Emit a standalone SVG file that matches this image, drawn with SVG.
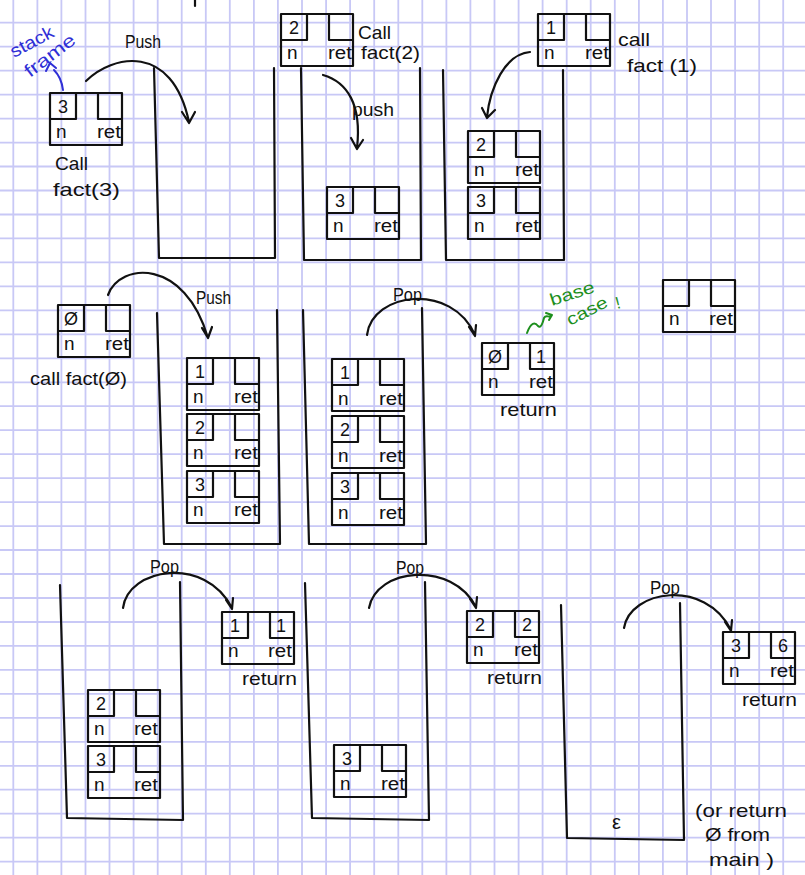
<svg xmlns="http://www.w3.org/2000/svg" xmlns:xlink="http://www.w3.org/1999/xlink" width="805" height="875" viewBox="0 0 805 875">
<style>
.grid{stroke:#c8c8f6;stroke-width:1.8;fill:none}
.ink{stroke:#111;stroke-width:2.2;fill:none;stroke-linecap:round;stroke-linejoin:round}
.t{font-family:"Liberation Sans",Arial,sans-serif;fill:#111}
.v{font-size:18px;text-anchor:middle}
.n{font-size:19px}
.r{font-size:18px}
.lbl{font-size:19px}
.blue{fill:#2f2fd6;font-family:"Liberation Sans",Arial,sans-serif;font-size:18px}
.green{fill:#1d8f1d;font-family:"Liberation Sans",Arial,sans-serif;font-size:17px}
</style>
<defs>
<g id="frm"><path class="ink" d="M0,0H72V52H0Z M26,0V26H0 M48,0V26H72"/></g>
</defs>
<rect width="805" height="875" fill="#fff"/>
<path class="grid" d="M13.3 0V875M37.4 0V875M61.4 0V875M85.5 0V875M109.5 0V875M133.6 0V875M157.7 0V875M181.7 0V875M205.8 0V875M229.8 0V875M253.9 0V875M277.9 0V875M302 0V875M326.1 0V875M350.1 0V875M374.2 0V875M398.3 0V875M422.3 0V875M446.4 0V875M470.4 0V875M494.5 0V875M518.6 0V875M542.6 0V875M566.7 0V875M590.7 0V875M614.8 0V875M638.9 0V875M662.9 0V875M687 0V875M711 0V875M735.1 0V875M759.2 0V875M783.2 0V875"/>
<path class="grid" d="M0 22.7H805M0 46.7H805M0 70.6H805M0 94.6H805M0 118.6H805M0 142.6H805M0 166.5H805M0 190.5H805M0 214.5H805M0 238.4H805M0 262.4H805M0 286.4H805M0 310.3H805M0 334.3H805M0 358.3H805M0 382.3H805M0 406.2H805M0 430.2H805M0 454.2H805M0 478.1H805M0 502.1H805M0 526.1H805M0 550H805M0 574H805M0 598H805M0 622H805M0 645.9H805M0 669.9H805M0 693.9H805M0 717.8H805M0 741.8H805M0 765.8H805M0 789.7H805M0 813.7H805M0 837.7H805M0 861.7H805"/>

<g id="stacks">
<path id="stack1" class="ink" d="M154,68 L159,258 L275,258 L274,68"/>
<path id="stack2" class="ink" d="M301,68 L304,260 L421,260 L420,68"/>
<path id="stack3" class="ink" d="M443,70 L446,260 L564,260 L563,70"/>
<path id="stack4" class="ink" d="M157,313 L164,544 L280,544 L277,310"/>
<path id="stack5" class="ink" d="M303,310 L309,544 L426,544 L422,308"/>
<path id="stack6" class="ink" d="M60,585 L67,818 L183,820 L180,582"/>
<path id="stack7" class="ink" d="M305,583 L312,818 L429,820 L425,582"/>
<path id="stack8" class="ink" d="M561,605 L567,838 L684,840 L680,603"/>
<path class="ink" d="M195,0 L195,6"/>
</g>

<g id="frame-call3"><use href="#frm" x="50" y="93"/>
<text class="t v" x="63" y="113">3</text><text class="t n" x="56" y="138">n</text><text class="t r" x="97" y="138" textLength="24" lengthAdjust="spacingAndGlyphs">ret</text>
<text class="t lbl" x="55" y="170" textLength="33" lengthAdjust="spacingAndGlyphs">Call</text><text class="t lbl" x="53" y="196" textLength="67" lengthAdjust="spacingAndGlyphs">fact(3)</text></g>

<g id="frame-call2"><use href="#frm" x="281" y="14"/>
<text class="t v" x="294" y="34">2</text><text class="t n" x="287" y="59">n</text><text class="t r" x="328" y="59" textLength="24" lengthAdjust="spacingAndGlyphs">ret</text>
<text class="t lbl" x="358" y="39" textLength="33" lengthAdjust="spacingAndGlyphs">Call</text><text class="t lbl" x="361" y="59" textLength="59" lengthAdjust="spacingAndGlyphs">fact(2)</text></g>

<g id="frame-s2-3"><use href="#frm" x="327" y="187"/>
<text class="t v" x="340" y="207">3</text><text class="t n" x="333" y="232">n</text><text class="t r" x="374" y="232" textLength="24" lengthAdjust="spacingAndGlyphs">ret</text></g>

<g id="frame-call1"><use href="#frm" x="538" y="14"/>
<text class="t v" x="551" y="34">1</text><text class="t n" x="544" y="59">n</text><text class="t r" x="585" y="59" textLength="24" lengthAdjust="spacingAndGlyphs">ret</text>
<text class="t lbl" x="618" y="46" textLength="32" lengthAdjust="spacingAndGlyphs">call</text><text class="t lbl" x="627" y="72" textLength="70" lengthAdjust="spacingAndGlyphs">fact (1)</text></g>

<g id="frame-s3-2"><use href="#frm" x="468" y="131"/>
<text class="t v" x="481" y="151">2</text><text class="t n" x="474" y="176">n</text><text class="t r" x="515" y="176" textLength="24" lengthAdjust="spacingAndGlyphs">ret</text></g>
<g id="frame-s3-3"><use href="#frm" x="468" y="187"/>
<text class="t v" x="481" y="207">3</text><text class="t n" x="474" y="232">n</text><text class="t r" x="515" y="232" textLength="24" lengthAdjust="spacingAndGlyphs">ret</text></g>

<g id="frame-call0"><use href="#frm" x="58" y="305"/>
<text class="t v" x="71" y="325">Ø</text><text class="t n" x="64" y="350">n</text><text class="t r" x="105" y="350" textLength="24" lengthAdjust="spacingAndGlyphs">ret</text>
<text class="t lbl" x="30" y="385" textLength="97" lengthAdjust="spacingAndGlyphs">call fact(Ø)</text></g>

<g id="frame-s4-1"><use href="#frm" x="187" y="358"/>
<text class="t v" x="200" y="378">1</text><text class="t n" x="193" y="403">n</text><text class="t r" x="234" y="403" textLength="24" lengthAdjust="spacingAndGlyphs">ret</text></g>
<g id="frame-s4-2"><use href="#frm" x="187" y="414"/>
<text class="t v" x="200" y="434">2</text><text class="t n" x="193" y="459">n</text><text class="t r" x="234" y="459" textLength="24" lengthAdjust="spacingAndGlyphs">ret</text></g>
<g id="frame-s4-3"><use href="#frm" x="187" y="471"/>
<text class="t v" x="200" y="491">3</text><text class="t n" x="193" y="516">n</text><text class="t r" x="234" y="516" textLength="24" lengthAdjust="spacingAndGlyphs">ret</text></g>

<g id="frame-s5-1"><use href="#frm" x="332" y="359"/>
<text class="t v" x="345" y="379">1</text><text class="t n" x="338" y="405">n</text><text class="t r" x="379" y="405" textLength="24" lengthAdjust="spacingAndGlyphs">ret</text></g>
<g id="frame-s5-2"><use href="#frm" x="332" y="416"/>
<text class="t v" x="345" y="436">2</text><text class="t n" x="338" y="462">n</text><text class="t r" x="379" y="462" textLength="24" lengthAdjust="spacingAndGlyphs">ret</text></g>
<g id="frame-s5-3"><use href="#frm" x="332" y="473"/>
<text class="t v" x="345" y="493">3</text><text class="t n" x="338" y="519">n</text><text class="t r" x="379" y="519" textLength="24" lengthAdjust="spacingAndGlyphs">ret</text></g>

<g id="frame-ret0"><use href="#frm" x="482" y="343"/>
<text class="t v" x="495" y="363">Ø</text><text class="t v" x="541" y="363">1</text><text class="t n" x="488" y="388">n</text><text class="t r" x="529" y="388" textLength="24" lengthAdjust="spacingAndGlyphs">ret</text>
<text class="t lbl" x="500" y="416" textLength="57" lengthAdjust="spacingAndGlyphs">return</text></g>

<g id="frame-empty"><use href="#frm" x="663" y="280"/>
<text class="t n" x="669" y="325">n</text><text class="t r" x="709" y="325" textLength="24" lengthAdjust="spacingAndGlyphs">ret</text></g>

<g id="frame-ret1"><use href="#frm" x="222" y="612"/>
<text class="t v" x="235" y="632">1</text><text class="t v" x="281" y="632">1</text><text class="t n" x="228" y="657">n</text><text class="t r" x="268" y="657" textLength="24" lengthAdjust="spacingAndGlyphs">ret</text>
<text class="t lbl" x="242" y="685" textLength="55" lengthAdjust="spacingAndGlyphs">return</text></g>

<g id="frame-s6-2"><use href="#frm" x="88" y="690"/>
<text class="t v" x="101" y="710">2</text><text class="t n" x="94" y="735">n</text><text class="t r" x="134" y="735" textLength="24" lengthAdjust="spacingAndGlyphs">ret</text></g>
<g id="frame-s6-3"><use href="#frm" x="88" y="746"/>
<text class="t v" x="101" y="766">3</text><text class="t n" x="94" y="791">n</text><text class="t r" x="134" y="791" textLength="24" lengthAdjust="spacingAndGlyphs">ret</text></g>

<g id="frame-ret2"><use href="#frm" x="467" y="611"/>
<text class="t v" x="480" y="631">2</text><text class="t v" x="527" y="631">2</text><text class="t n" x="473" y="656">n</text><text class="t r" x="514" y="656" textLength="24" lengthAdjust="spacingAndGlyphs">ret</text>
<text class="t lbl" x="487" y="684" textLength="55" lengthAdjust="spacingAndGlyphs">return</text></g>

<g id="frame-s7-3"><use href="#frm" x="334" y="745"/>
<text class="t v" x="347" y="765">3</text><text class="t n" x="340" y="790">n</text><text class="t r" x="381" y="790" textLength="24" lengthAdjust="spacingAndGlyphs">ret</text></g>

<g id="frame-ret3"><use href="#frm" x="723" y="632"/>
<text class="t v" x="736" y="652">3</text><text class="t v" x="783" y="652">6</text><text class="t n" x="729" y="677">n</text><text class="t r" x="770" y="677" textLength="24" lengthAdjust="spacingAndGlyphs">ret</text>
<text class="t lbl" x="742" y="706" textLength="55" lengthAdjust="spacingAndGlyphs">return</text></g>

<g id="connectors">
<path class="ink" d="M86,81 C112,55 172,42 189,122 M182,112 L189,123 L195,112"/>
<path class="ink" d="M323,75 C347,82 362,104 357,148 M351,138 L357,149 L363,140"/>
<path class="ink" d="M530,52 C505,54 490,88 487,117 M482,108 L487,118 L495,110"/>
<path class="ink" d="M108,295 C120,262 185,258 208,338 M202,328 L208,338 L212,327"/>
<path class="ink" d="M367,335 C372,292 452,282 475,335 M469,327 L475,336 L476,325"/>
<path class="ink" d="M123,608 C128,568 205,555 232,608 M226,600 L232,609 L233,598"/>
<path class="ink" d="M369,608 C376,568 452,560 476,607 M470,599 L476,608 L477,597"/>
<path class="ink" d="M624,628 C630,590 705,578 731,630 M725,622 L731,631 L732,620"/>
<path d="M63,90 C62,82 60,76 54,70 M46,71 L50,63 L56,68" fill="none" stroke="#2f2fd6" stroke-width="2" stroke-linecap="round" stroke-linejoin="round"/>
<path d="M527,333 C531,322 535,322 538,326 C541,329 543,322 544,318 C546,314 549,318 551,316 M546,313 L552,315 L549,320" fill="none" stroke="#1d8f1d" stroke-width="2" stroke-linecap="round" stroke-linejoin="round"/>
</g>

<g id="labels">
<text class="t lbl" x="125" y="48" textLength="36" lengthAdjust="spacingAndGlyphs">Push</text>
<text class="t lbl" x="352" y="116" textLength="42" lengthAdjust="spacingAndGlyphs">push</text>
<text class="t lbl" x="196" y="304" textLength="35" lengthAdjust="spacingAndGlyphs">Push</text>
<text class="t lbl" x="393" y="301" textLength="29" lengthAdjust="spacingAndGlyphs">Pop</text>
<text class="t lbl" x="150" y="573" textLength="29" lengthAdjust="spacingAndGlyphs">Pop</text>
<text class="t lbl" x="396" y="574" textLength="28" lengthAdjust="spacingAndGlyphs">Pop</text>
<text class="t lbl" x="650" y="594" textLength="30" lengthAdjust="spacingAndGlyphs">Pop</text>
<text class="t" x="612" y="829" font-size="20">ε</text>
<text class="t lbl" x="695" y="817" textLength="92" lengthAdjust="spacingAndGlyphs">(or return</text>
<text class="t lbl" x="705" y="841" textLength="65" lengthAdjust="spacingAndGlyphs">Ø from</text>
<text class="t lbl" x="709" y="866" textLength="65" lengthAdjust="spacingAndGlyphs">main )</text>
<text class="blue" transform="translate(14,58) rotate(-28)" textLength="47" lengthAdjust="spacingAndGlyphs">stack</text>
<text class="blue" transform="translate(30,78) rotate(-37)" textLength="59" lengthAdjust="spacingAndGlyphs">frame</text>
<text class="green" transform="translate(552,306) rotate(-18)" textLength="46" lengthAdjust="spacingAndGlyphs">base</text>
<text class="green" transform="translate(570,326) rotate(-27)" textLength="44" lengthAdjust="spacingAndGlyphs">case</text>
<text class="green" transform="translate(617,309) rotate(-15)">!</text>
</g>
</svg>
